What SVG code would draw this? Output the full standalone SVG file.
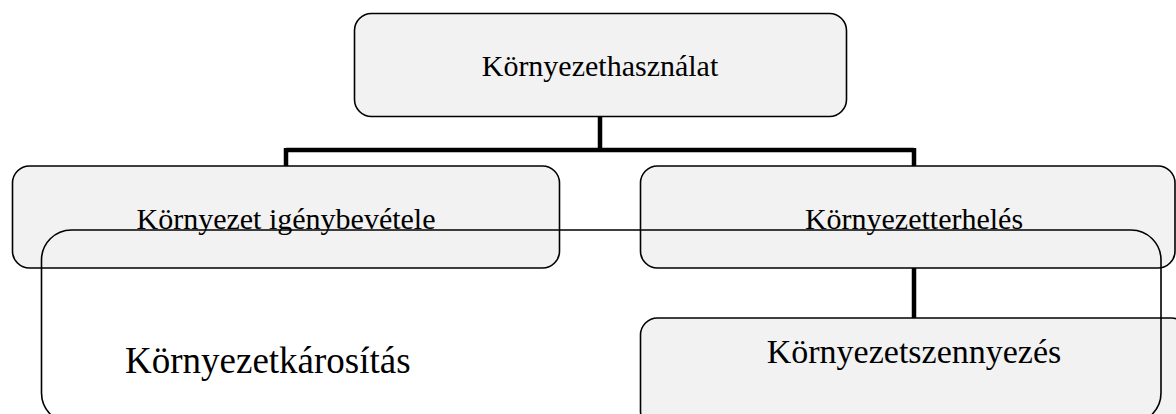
<svg xmlns="http://www.w3.org/2000/svg" width="1176" height="414" viewBox="0 0 1176 414">
<style>
.box{fill:#f2f2f2;stroke:#000;stroke-width:1.6}
.outline{fill:none;stroke:#000;stroke-width:1.6}
.conn{fill:none;stroke:#000;stroke-width:4.5}
text{font-family:"Liberation Serif","Times New Roman",serif;fill:#000}
.t30{font-size:30px}
.t34{font-size:34px}
.t37{font-size:37px}
</style>
<rect width="1176" height="414" fill="#fff"/>
<g id="connectors">
<path class="conn" d="M600 116 V150 M286 150 H914 M286 148 V166 M914 148 V166 M914 268 V318"/>
</g>
<g id="node-kornyezethasznalat">
<rect class="box" x="354.5" y="13.5" width="492" height="103" rx="17"/>
<text class="t30" x="600" y="76" text-anchor="middle">Környezethasználat</text>
</g>
<g id="node-igenybevetel">
<rect class="box" x="12.5" y="166" width="547" height="102" rx="17"/>
<text class="t30" x="286" y="229" text-anchor="middle">Környezet igénybevétele</text>
</g>
<g id="node-terheles">
<rect class="box" x="640.5" y="166" width="534.5" height="102" rx="17"/>
<text class="t30" x="914" y="229" text-anchor="middle">Környezetterhelés</text>
</g>
<g id="node-szennyezes">
<rect class="box" x="640.5" y="318" width="548" height="110" rx="17"/>
<text class="t34" x="914" y="363" text-anchor="middle">Környezetszennyezés</text>
</g>
<g id="node-karositas">
<rect class="outline" x="41.5" y="230" width="1119.5" height="193" rx="30"/>
<text class="t37" x="125" y="373">Környezetkárosítás</text>
</g>
</svg>
